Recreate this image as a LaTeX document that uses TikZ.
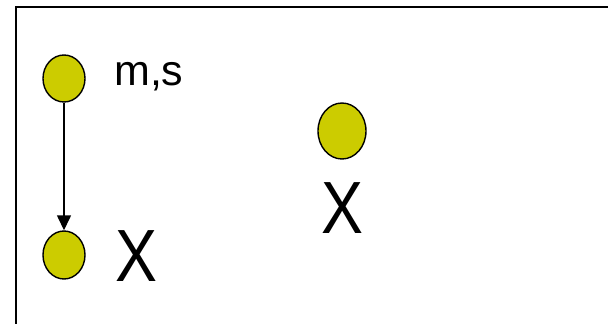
\documentclass[tikz,border=0pt]{standalone}
\usepackage{fontspec}
\setmainfont{Liberation Sans}
\usetikzlibrary{arrows.meta,shapes.geometric}
\definecolor{olive}{RGB}{204,204,0}
\tikzset{
  dot/.style={ellipse, draw=black, line width=1.4pt, fill=olive, inner sep=0pt},
  bigx/.style={font=\fontsize{74}{74}\selectfont, inner sep=0pt, anchor=base, xscale=0.85},
  small/.style={font=\fontsize{43}{43}\selectfont, inner sep=0pt, anchor=base west}
}
\begin{document}
\begin{tikzpicture}[x=1pt,y=1pt]
\useasboundingbox (0,0) rectangle (608,-324);
\fill[white] (0,0) rectangle (608,-324);
\draw[line width=2.2pt] (16,-340) -- (16,-7) -- (620,-7);
\node[dot, minimum width=42pt, minimum height=47pt] (a) at (64,-78.5) {};
\node[dot, minimum width=42pt, minimum height=48pt] (b) at (64,-255) {};
\node[dot, minimum width=48pt, minimum height=56pt] (c) at (342,-131) {};
\node[small] (ms) at (114,-85) {m,s};
\node[bigx] (x1) at (136.5,-281) {X};
\node[bigx] (x2) at (342.5,-233) {X};
\draw[line width=1.4pt, -{Triangle[length=15pt, width=14pt]}] (a.south) -- (b.north);
\end{tikzpicture}
\end{document}
